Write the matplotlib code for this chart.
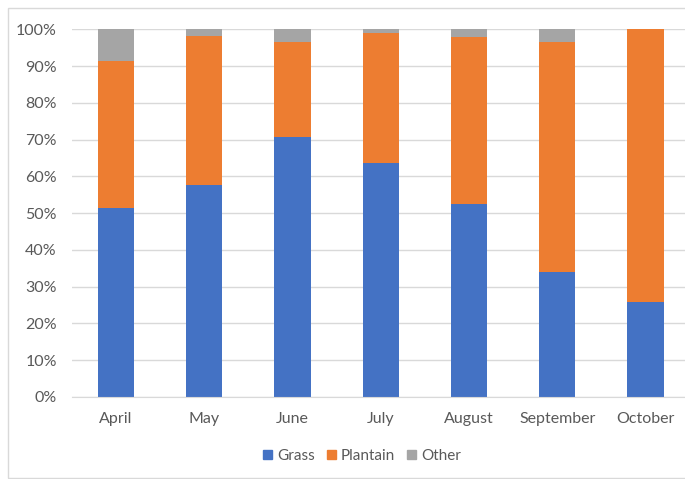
import matplotlib
matplotlib.use("Agg")
import matplotlib.pyplot as plt
from matplotlib.patches import Rectangle, Patch
import numpy as np

months = ["April", "May", "June", "July", "August", "September", "October"]
grass = [51.4, 57.7, 70.7, 63.6, 52.5, 34.0, 25.9]
plantain = [40.0, 40.5, 25.9, 35.3, 45.5, 62.6, 74.1]
other = [8.6, 1.8, 3.4, 1.1, 2.0, 3.4, 0.0]
yticks = [0, 10, 20, 30, 40, 50, 60, 70, 80, 90, 100]

W, H = 685, 479
fig = plt.figure(figsize=(W / 100, H / 100), dpi=100)
plt.rcParams['font.family'] = ['Lato', 'DejaVu Sans']

fig.patches.append(Rectangle((8 / W, 1 - 478 / H), 690 / W, 470 / H, transform=fig.transFigure,
                             fill=False, edgecolor="#d9d9d9", linewidth=1.0))

left, right, top, bottom = 72, 689.6, 29.3, 397
ax = fig.add_axes([left / W, 1 - bottom / H, (right - left) / W, (bottom - top) / H])

x = np.arange(len(months))
bw = 0.41
g = np.array(grass)
p = np.array(plantain)
o = np.array(other)
ax.bar(x, g, bw, color="#4472C4", label="Grass", zorder=2)
ax.bar(x, p, bw, bottom=g, color="#ED7D31", label="Plantain", zorder=2)
ax.bar(x, o, bw, bottom=g + p, color="#A5A5A5", label="Other", zorder=2)

ax.set_xlim(-0.5, len(months) - 0.5)
ax.set_ylim(0, 100)
ax.set_yticks(yticks)
ax.set_yticklabels([f"{t}%" for t in yticks])
ax.set_xticks(x)
ax.set_xticklabels(months)
ax.yaxis.grid(True, color="#d9d9d9", linewidth=1.0, zorder=0)
ax.set_axisbelow(True)
for s in ["top", "right", "left"]:
    ax.spines[s].set_visible(False)
ax.spines["bottom"].set_color("#d9d9d9")
ax.tick_params(axis="both", length=0, labelsize=11.5, colors="#595959")
ax.tick_params(axis="y", pad=11)
ax.tick_params(axis="x", pad=11)

handles = [Patch(color="#4472C4"), Patch(color="#ED7D31"), Patch(color="#A5A5A5")]
fig.legend(handles, ["Grass", "Plantain", "Other"], loc="center", bbox_to_anchor=(362 / W, 1 - 456 / H),
           ncol=3, frameon=False, fontsize=11, handlelength=0.6, handleheight=0.6,
           handletextpad=0.3, columnspacing=0.8, labelcolor="#595959")

fig.savefig("out.png", dpi=100)
